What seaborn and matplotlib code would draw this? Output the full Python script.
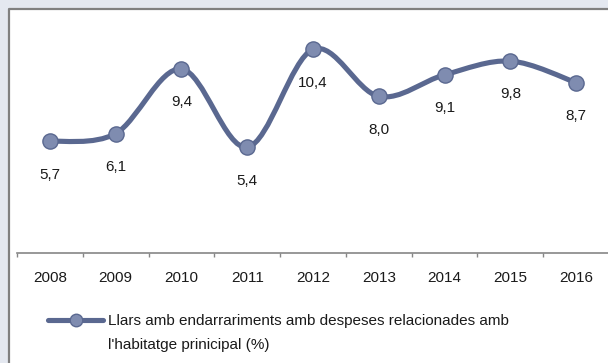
import matplotlib
matplotlib.use("Agg")
import matplotlib.pyplot as plt
import seaborn as sns
import numpy as np
from matplotlib.path import Path
from matplotlib.patches import PathPatch, Rectangle
from matplotlib.lines import Line2D

# Data
years = ["2008", "2009", "2010", "2011", "2012", "2013", "2014", "2015", "2016"]
values = [5.7, 6.1, 9.4, 5.4, 10.4, 8.0, 9.1, 9.8, 8.7]
legend_line1 = "Llars amb endarrariments amb despeses relacionades amb"
legend_line2 = "l'habitatge prinicipal (%)"

line_color = "#5A6890"
marker_color = "#7F8CB0"

sns.set_theme(style="white")
plt.rcParams["font.family"] = ["Liberation Sans", "DejaVu Sans"]

fig = plt.figure(figsize=(6.08, 3.63), dpi=100)
fig.patch.set_facecolor("#E4E8F0")

# white chart panel, grey border on left and top
fig.add_artist(Rectangle((9 / 608, 0), 1, (363 - 9) / 363,
                         transform=fig.transFigure, facecolor="white",
                         edgecolor="none", zorder=0))
fig.add_artist(Line2D([9 / 608, 9 / 608, 1], [0, 1 - 9 / 363, 1 - 9 / 363],
                      transform=fig.transFigure, color="#808080", linewidth=1.6,
                      zorder=1))

ax = fig.add_axes([17 / 608, 110 / 363, 592 / 608, 235 / 363])
ax.set_facecolor("none")

x = np.arange(len(years))
y = np.array(values)

# smoothed line (Excel-style bezier through the points)
verts = [(x[0], y[0])]
codes = [Path.MOVETO]
n = len(x)
for i in range(n - 1):
    p0 = np.array([x[max(i - 1, 0)], y[max(i - 1, 0)]])
    p1 = np.array([x[i], y[i]])
    p2 = np.array([x[i + 1], y[i + 1]])
    p3 = np.array([x[min(i + 2, n - 1)], y[min(i + 2, n - 1)]])
    c1 = p1 + (p2 - p0) / 6
    c2 = p2 - (p3 - p1) / 6
    verts += [tuple(c1), tuple(c2), tuple(p2)]
    codes += [Path.CURVE4] * 3
ax.add_patch(PathPatch(Path(verts, codes), facecolor="none",
                       edgecolor=line_color, linewidth=3.7, capstyle="round",
                       joinstyle="round", zorder=2))

sns.scatterplot(x=x, y=y, ax=ax, s=120, color=marker_color,
                edgecolor=line_color, linewidth=1.0, zorder=3, legend=False)

for xi, yi in zip(x, y):
    ax.annotate(f"{yi:.1f}".replace(".", ","), (xi, yi), xytext=(0, -24),
                textcoords="offset points", ha="center", va="center",
                fontsize=11, color="#1a1a1a")

ax.set_xlim(-0.5, len(years) - 0.5)
ax.set_ylim(0, 12)
ax.set_xticks(x)
ax.set_xticklabels(years, fontsize=11, color="#1a1a1a")
ax.set_xticks(np.arange(-0.5, len(years), 1), minor=True)
ax.tick_params(axis="x", which="major", length=0, pad=13)
ax.tick_params(axis="x", which="minor", length=3, width=1, color="#868686",
               direction="out", bottom=True)
ax.set_yticks([])
for side in ["top", "right", "left"]:
    ax.spines[side].set_visible(False)
ax.spines["bottom"].set_color("#868686")
ax.spines["bottom"].set_linewidth(1.2)

# legend
fig.add_artist(Line2D([48 / 608, 103 / 608], [1 - 320 / 363] * 2,
                      transform=fig.transFigure, color=line_color, linewidth=3.7,
                      solid_capstyle="round"))
fig.add_artist(Line2D([76 / 608], [1 - 320 / 363], transform=fig.transFigure,
                      marker="o", markersize=9, markerfacecolor=marker_color,
                      markeredgecolor=line_color, linestyle="none"))
fig.text(108 / 608, 1 - 321 / 363, legend_line1, fontsize=11, va="center",
         color="#1a1a1a")
fig.text(108 / 608, 1 - 345 / 363, legend_line2, fontsize=11, va="center",
         color="#1a1a1a")

fig.savefig("out.png", dpi=100, facecolor=fig.get_facecolor())
